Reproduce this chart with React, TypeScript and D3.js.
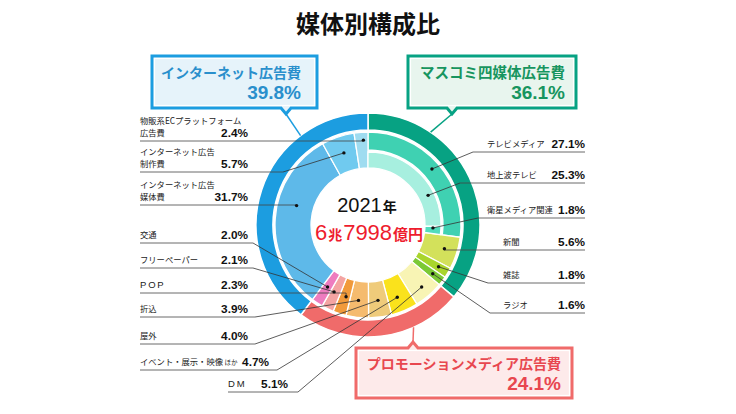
import { useEffect } from 'react';
import * as d3 from 'd3';

// 媒体別構成比 2021
const groupNames = ['マスコミ四媒体広告費', 'プロモーションメディア広告費', 'インターネット広告費'];
const groupShares = [36.1, 24.1, 39.8];

const itemNames = [
  'テレビメディア', '新聞', '雑誌', 'ラジオ',
  'DM', 'イベント・展示・映像ほか', '屋外', '折込', 'POP', 'フリーペーパー', '交通',
  'インターネット広告媒体費', 'インターネット広告制作費', '物販系ECプラットフォーム広告費',
];
const itemShares = [27.1, 5.6, 1.8, 1.6, 5.1, 4.7, 4.0, 3.9, 2.3, 2.1, 2.0, 31.7, 5.7, 2.4];

const tvNames = ['地上波テレビ', '衛星メディア関連'];
const tvShares = [25.3, 1.8];

const totalYear = '2021';
const totalParts = ['6', '兆', '7998', '億円'];

// styles
const groupColors = ['#07a283', '#f06b6a', '#1c9de0'];
const groupFills = ['#e8f5ee', '#fdeaea', '#e6f3fa'];
const groupText = ['#17955f', '#e8474f', '#2a8fcc'];
const itemColors: Record<string, string> = {
  'テレビメディア': '#3fd1b2',
  '新聞': '#d3e15b',
  '雑誌': '#a9d52c',
  'ラジオ': '#7cc935',
  'DM': '#f8f4b4',
  'イベント・展示・映像ほか': '#fae21c',
  '屋外': '#efcb7a',
  '折込': '#f5bb6e',
  'POP': '#f19a3a',
  'フリーペーパー': '#f4a4a2',
  '交通': '#ee7cbf',
  'インターネット広告媒体費': '#5eb9e9',
  'インターネット広告制作費': '#70caef',
  '物販系ECプラットフォーム広告費': '#9fdcf0',
  '地上波テレビ': '#a7efdf',
  '衛星メディア関連': '#52dcbd',
};

// label layout (side, underline y, text x, value x, elbow x, dot position inside segment)
type Lay = { side: 'L' | 'R'; lines: string[]; uy: number; tx: number; vx: number; elbow?: number; t: number; r: number };
const layout: Record<string, Lay> = {
  '物販系ECプラットフォーム広告費': { side: 'L', lines: ['物販系ECプラットフォーム', '広告費'], uy: 141, tx: 140, vx: 248, t: 0.64, r: 85 },
  'インターネット広告制作費': { side: 'L', lines: ['インターネット広告', '制作費'], uy: 172, tx: 140, vx: 248, elbow: 283, t: 0.52, r: 76 },
  'インターネット広告媒体費': { side: 'L', lines: ['インターネット広告', '媒体費'], uy: 205, tx: 140, vx: 248, t: 0.6, r: 74 },
  '交通': { side: 'L', lines: ['交通'], uy: 243, tx: 140, vx: 248, elbow: 253, t: 0.5, r: 74 },
  'フリーペーパー': { side: 'L', lines: ['フリーペーパー'], uy: 268, tx: 140, vx: 248, elbow: 253, t: 0.65, r: 75 },
  'POP': { side: 'L', lines: ['POP'], uy: 293, tx: 140, vx: 248, t: 0.4, r: 75 },
  '折込': { side: 'L', lines: ['折込'], uy: 317, tx: 140, vx: 248, elbow: 255, t: 0.54, r: 76 },
  '屋外': { side: 'L', lines: ['屋外'], uy: 344, tx: 140, vx: 248, elbow: 255, t: 0.5, r: 76 },
  'イベント・展示・映像ほか': { side: 'L', lines: ['イベント・展示・映像'], uy: 370, tx: 140, vx: 269, elbow: 277, t: 0.57, r: 78 },
  'DM': { side: 'L', lines: ['DM'], uy: 392, tx: 228, vx: 288, elbow: 298, t: 0.5, r: 82 },
  'テレビメディア': { side: 'R', lines: ['テレビメディア'], uy: 152, tx: 487, vx: 585, elbow: 473, t: 0.5, r: 85 },
  '地上波テレビ': { side: 'R', lines: ['地上波テレビ'], uy: 183, tx: 487, vx: 585, elbow: 460, t: 0.7, r: 67 },
  '衛星メディア関連': { side: 'R', lines: ['衛星メディア関連'], uy: 218, tx: 487, vx: 585, elbow: 478, t: 0.23, r: 65 },
  '新聞': { side: 'R', lines: ['新聞'], uy: 250, tx: 503, vx: 585, t: 0.48, r: 80 },
  '雑誌': { side: 'R', lines: ['雑誌'], uy: 283, tx: 503, vx: 585, elbow: 488, t: 0.45, r: 82 },
  'ラジオ': { side: 'R', lines: ['ラジオ'], uy: 313, tx: 503, vx: 585, elbow: 490, t: 0.48, r: 81 },
};

const boxes = [
  { g: 0, x: 408, y: 56, w: 168, h: 52, notch: 'bottom', nx: 452, ty: 78, vy: 99, tr: 565, fs: 14.5, ringAngle: 34 },
  { g: 1, x: 356, y: 348, w: 216, h: 50, notch: 'top', nx: 413, ty: 369, vy: 390, tr: 561, fs: 14, ringAngle: 156 },
  { g: 2, x: 152, y: 56, w: 165, h: 52, notch: 'bottom', nx: 286, ty: 78, vy: 99, tr: 301, fs: 14, ringAngle: 323 },
];

const W = 736;
const H = 414;
const cx = 368;
const cy = 225;
const jp = "'Noto Sans CJK JP', 'Noto Sans', sans-serif";
const num = "'Liberation Sans', Arial, sans-serif";

function boxPath(x: number, y: number, w: number, h: number, side: string, nx: number) {
  const n = 5;
  const d = 6;
  if (side === 'bottom') {
    return `M${x},${y}H${x + w}V${y + h}H${nx + n}L${nx},${y + h + d}L${nx - n},${y + h}H${x}Z`;
  }
  return `M${x},${y}H${nx - n}L${nx},${y - d}L${nx + n},${y}H${x + w}V${y + h}H${x}Z`;
}

export default function App() {
  useEffect(() => {
    document.body.style.margin = '0';
  }, []);

  const pie = d3.pie<number>().sort(null).value((d) => d);
  const groupArcs = pie(groupShares);
  const itemArcs = pie(itemShares);
  const tvArcs = d3
    .pie<number>()
    .sort(null)
    .value((d) => d)
    .startAngle(itemArcs[0].startAngle)
    .endAngle(itemArcs[0].endAngle)(tvShares);

  const outerArc = d3.arc<d3.PieArcDatum<number>>().innerRadius(95).outerRadius(112);
  const innerArc = d3.arc<d3.PieArcDatum<number>>().innerRadius(57).outerRadius(93);
  const tvMidArc = d3.arc<d3.PieArcDatum<number>>().innerRadius(75).outerRadius(93);
  const tvInArc = d3.arc<d3.PieArcDatum<number>>().innerRadius(57).outerRadius(73);

  const leaves = [
    ...itemNames.map((name, i) => ({ name, share: itemShares[i], arc: itemArcs[i], gen: i === 0 ? tvMidArc : innerArc })),
    ...tvNames.map((name, i) => ({ name, share: tvShares[i], arc: tvArcs[i], gen: tvInArc })),
  ];

  const pt = (a: number, r: number): [number, number] => [r * Math.sin(a), -r * Math.cos(a)];

  return (
    <div style={{ position: 'fixed', left: 0, top: 0 }}>
      <svg width={W} height={H} viewBox={`0 0 ${W} ${H}`} style={{ display: 'block', background: '#fff' }}>
        <text x={cx} y={33} textAnchor="middle" fontFamily={jp} fontWeight={700} fontSize={24} fill="#111">
          媒体別構成比
        </text>

        {/* rings */}
        <g transform={`translate(${cx},${cy})`}>
          {groupArcs.map((a, i) => (
            <path key={groupNames[i]} d={outerArc(a) || ''} fill={groupColors[i]} stroke="#fff" strokeWidth={1.5} />
          ))}
          {leaves.map((l) => (
            <path key={l.name} d={l.gen(l.arc) || ''} fill={itemColors[l.name]} stroke="#fff" strokeWidth={1.3} />
          ))}
        </g>

        {/* callout boxes */}
        {boxes.map((b) => {
          const ang = (b.ringAngle * Math.PI) / 180;
          const [rx, ry] = pt(ang, 112);
          const apexY = b.notch === 'bottom' ? b.y + b.h + 6 : b.y - 6;
          return (
            <g key={groupNames[b.g]}>
              <line x1={b.nx} y1={apexY} x2={cx + rx} y2={cy + ry} stroke={groupColors[b.g]} strokeWidth={1.5} />
              <path d={boxPath(b.x, b.y, b.w, b.h, b.notch, b.nx)} fill={groupFills[b.g]} stroke={groupColors[b.g]} strokeWidth={3} strokeLinejoin="miter" />
              <rect x={b.x + 2.5} y={b.y + 2.5} width={b.w - 5} height={b.h - 5} fill="none" stroke="#fff" strokeWidth={1.2} />
              <text x={b.tr} y={b.ty} textAnchor="end" fontFamily={jp} fontWeight={700} fontSize={b.fs} fill={groupText[b.g]}>
                {groupNames[b.g]}
              </text>
              <text x={b.tr} y={b.vy} textAnchor="end" fontFamily={num} fontWeight={700} fontSize={19} fill={groupText[b.g]}>
                {`${groupShares[b.g].toFixed(1)}%`}
              </text>
            </g>
          );
        })}

        {/* leaf labels and leaders */}
        {leaves.map((l) => {
          const lay = layout[l.name];
          const a = l.arc.startAngle + lay.t * (l.arc.endAngle - l.arc.startAngle);
          const [dx, dy] = pt(a, lay.r);
          const px = cx + dx;
          const py = cy + dy;
          const ex = lay.elbow ?? px;
          const ux0 = lay.side === 'L' ? lay.tx : ex;
          const ux1 = lay.side === 'L' ? ex : lay.vx;
          const lastBase = lay.uy - 5;
          const latin = l.name === 'POP' || l.name === 'DM';
          return (
            <g key={`lab-${l.name}`}>
              <line x1={ux0} y1={lay.uy} x2={ux1} y2={lay.uy} stroke="#444" strokeWidth={0.8} />
              <line x1={ex} y1={lay.uy} x2={px} y2={py} stroke="#333" strokeWidth={0.8} />
              <circle cx={px} cy={py} r={1.7} fill="#111" />
              {lay.lines.map((s, k) => (
                <text
                  key={s}
                  x={lay.tx}
                  y={lastBase - (lay.lines.length - 1 - k) * 12}
                  fontFamily={latin ? num : jp}
                  fontSize={latin ? 9.5 : 8.3}
                  letterSpacing={latin ? 1.8 : 0}
                  fill="#222"
                >
                  {s}
                  {l.name === 'イベント・展示・映像ほか' && (
                    <tspan fontSize={6.5} dx={1.5}>
                      ほか
                    </tspan>
                  )}
                </text>
              ))}
              <text x={lay.vx} y={lay.uy - 4} textAnchor="end" fontFamily={num} fontWeight={700} fontSize={11.8} fill="#111">
                {`${l.share.toFixed(1)}%`}
              </text>
            </g>
          );
        })}

        {/* center total */}
        <text x={cx - 1} y={212} textAnchor="middle" fill="#111">
          <tspan fontFamily={num} fontSize={20}>{totalYear}</tspan>
          <tspan fontFamily={jp} fontSize={14} fontWeight={700} dx={1}>年</tspan>
        </text>
        <text x={cx + 1} y={240} textAnchor="middle" fill="#ee1c2e">
          <tspan fontFamily={num} fontSize={22}>{totalParts[0]}</tspan>
          <tspan fontFamily={jp} fontSize={14} fontWeight={700} dx={1}>{totalParts[1]}</tspan>
          <tspan fontFamily={num} fontSize={22} dx={1}>{totalParts[2]}</tspan>
          <tspan fontFamily={jp} fontSize={15} fontWeight={700} dx={1}>{totalParts[3]}</tspan>
        </text>
      </svg>
    </div>
  );
}
